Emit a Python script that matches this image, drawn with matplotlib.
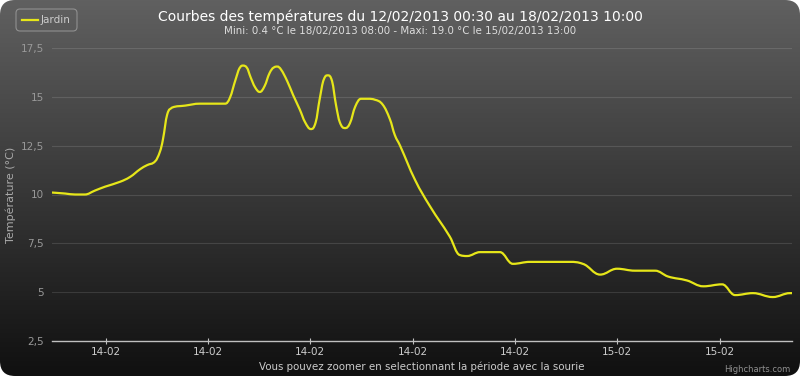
import numpy as np
import matplotlib
matplotlib.use("Agg")
import matplotlib.pyplot as plt
from matplotlib.patches import FancyBboxPatch, PathPatch
from matplotlib.path import Path
from matplotlib.lines import Line2D

# hours since 12/02/2013 00:30, temperatures
hours = [0, 2.7, 4.8, 6.8, 8.9, 11.0, 14.1, 16.2, 18.3, 19.7, 21.4, 22.4, 23.0,
         23.9, 24.9, 27.6, 30.7, 35.9, 36.9, 38.1, 39.0, 39.6, 40.4, 41.2, 42.1,
         43.1, 44.1, 45.1, 46.0, 46.7, 47.5, 48.8, 50.0, 51.4, 52.5, 53.7, 54.7,
         55.5, 56.4, 57.2, 58.1, 58.9, 59.7, 60.8, 61.8, 62.9, 64.1, 65.6, 67.0,
         68.6, 70.1, 71.1, 72.2, 75.3, 78.4, 82.5, 84.6, 86.1, 88.8, 92.9, 95.6,
         99.1, 107.4, 110.1, 113.7, 117.2, 120.9, 125.1, 127.8, 131.7, 135.1,
         139.0, 141.7, 145.4, 149.5, 153.1, 153.5]
temps = [10.1, 10.05, 10.0, 10.0, 10.2, 10.4, 10.65, 10.9, 11.3, 11.5, 11.7, 12.2, 12.8,
         14.1, 14.45, 14.55, 14.65, 14.65, 14.95, 15.9, 16.5, 16.6, 16.5, 16.0, 15.5,
         15.25, 15.55, 16.2, 16.5, 16.55, 16.4, 15.8, 15.1, 14.35, 13.7, 13.35, 13.7,
         14.85, 15.9, 16.1, 15.8, 14.6, 13.7, 13.4, 13.65, 14.5, 14.9, 14.9, 14.85,
         14.6, 13.85, 13.05, 12.5, 10.75, 9.4, 7.85, 6.9, 6.85, 7.05, 7.05, 6.45,
         6.55, 6.55, 6.45, 5.9, 6.2, 6.1, 6.1, 5.8, 5.6, 5.3,
         5.4, 4.85, 4.95, 4.75, 4.95, 4.95]

tick_hours = [11.2, 32.4, 53.5, 74.9, 96.1, 117.2, 138.6]
tick_labels = ["14-02", "14-02", "14-02", "14-02", "14-02", "15-02", "15-02"]
y_ticks = [2.5, 5, 7.5, 10, 12.5, 15, 17.5]
y_labels = ["2,5", "5", "7,5", "10", "12,5", "15", "17,5"]

title = "Courbes des températures du 12/02/2013 00:30 au 18/02/2013 10:00"
subtitle = "Mini: 0.4 °C le 18/02/2013 08:00 - Maxi: 19.0 °C le 15/02/2013 13:00"


def spline_path(xs, ys, smoothing=1.5):
    """Bezier path through the points, same control point rule as a Highcharts spline."""
    verts = [(xs[0], ys[0])]
    codes = [Path.MOVETO]
    n = len(xs)
    ctrl = []
    for i in range(n):
        if i == 0 or i == n - 1:
            ctrl.append((xs[i], ys[i], xs[i], ys[i]))
            continue
        d = smoothing + 1
        lx = (smoothing * xs[i] + xs[i - 1]) / d
        ly = (smoothing * ys[i] + ys[i - 1]) / d
        rx = (smoothing * xs[i] + xs[i + 1]) / d
        ry = (smoothing * ys[i] + ys[i + 1]) / d
        if rx != lx:
            corr = (ry - ly) * (rx - xs[i]) / (rx - lx) + ys[i] - ry
            ly += corr
            ry += corr
        if ly > ys[i - 1] and ly > ys[i]:
            ly = max(ys[i - 1], ys[i]); ry = 2 * ys[i] - ly
        elif ly < ys[i - 1] and ly < ys[i]:
            ly = min(ys[i - 1], ys[i]); ry = 2 * ys[i] - ly
        if ry > ys[i + 1] and ry > ys[i]:
            ry = max(ys[i + 1], ys[i]); ly = 2 * ys[i] - ry
        elif ry < ys[i + 1] and ry < ys[i]:
            ry = min(ys[i + 1], ys[i]); ly = 2 * ys[i] - ry
        ctrl.append((lx, ly, rx, ry))
    for i in range(1, n):
        verts += [(ctrl[i - 1][2], ctrl[i - 1][3]), (ctrl[i][0], ctrl[i][1]), (xs[i], ys[i])]
        codes += [Path.CURVE4] * 3
    return Path(verts, codes)


W, H = 800, 376
fig = plt.figure(figsize=(W / 100, H / 100), dpi=100)
fig.patch.set_facecolor("white")

# rounded dark gradient background
bg = fig.add_axes([0, 0, 1, 1])
bg.set_xlim(0, W)
bg.set_ylim(0, H)
bg.axis("off")
grad = np.linspace(96, 16, 256)[:, None] / 255.0
grad = np.repeat(grad, 2, axis=1)
img = bg.imshow(np.dstack([grad, grad, grad]), extent=[0, W, 0, H], aspect="auto", zorder=0)
box = FancyBboxPatch((0, 0), W, H, boxstyle="round,pad=0,rounding_size=15",
                     transform=bg.transData, facecolor="none", edgecolor="none")
bg.add_patch(box)
img.set_clip_path(box)

ax = fig.add_axes([52 / W, 1 - 341 / H, 740 / W, 293 / H])
ax.patch.set_alpha(0)
ax.add_patch(PathPatch(spline_path(hours, temps), facecolor="none", edgecolor="#e6e619",
                       lw=1.6, capstyle="round", zorder=3))
ax.set_xlim(0, 153.5)
ax.set_ylim(2.5, 17.5)

ax.set_yticks(y_ticks)
ax.set_yticklabels(y_labels)
ax.set_xticks(tick_hours)
ax.set_xticklabels(tick_labels)
ax.grid(axis="y", color="white", alpha=0.12, lw=0.8)
for s in ["top", "right", "left"]:
    ax.spines[s].set_visible(False)
ax.spines["bottom"].set_color("#c0c0c0")
ax.spines["bottom"].set_linewidth(1)
ax.tick_params(axis="y", length=0, colors="#999999", labelsize=7.5, pad=6)
ax.tick_params(axis="x", direction="inout", length=5, width=0.8, color="#c0c0c0",
               labelcolor="#cccccc", labelsize=7.5, pad=2)
ax.set_ylabel("Température (°C)", color="#aaaaaa", fontsize=8)
ax.yaxis.set_label_coords(-0.048, 0.5)
ax.set_xlabel("Vous pouvez zoomer en selectionnant la période avec la sourie",
              color="#cccccc", fontsize=7.4, labelpad=3)

fig.text(400 / W, 1 - 17 / H, title, color="white", fontsize=10, ha="center", va="center")
fig.text(400 / W, 1 - 31 / H, subtitle, color="#dddddd", fontsize=7.4, ha="center", va="center")
fig.text(790 / W, 1 - 369 / H, "Highcharts.com", color="#909090", fontsize=6, ha="right", va="center")

# legend box
leg = FancyBboxPatch((16, H - 31), 61, 22, boxstyle="round,pad=0,rounding_size=4",
                     transform=bg.transData, facecolor="none", edgecolor="#909090", lw=0.8)
bg.add_patch(leg)
bg.add_line(Line2D([22, 38], [H - 20, H - 20], color="#e6e619", lw=1.6))
bg.text(41, H - 20, "Jardin", color="#cccccc", fontsize=7.5, va="center", ha="left")

fig.savefig("out.png", dpi=100)
